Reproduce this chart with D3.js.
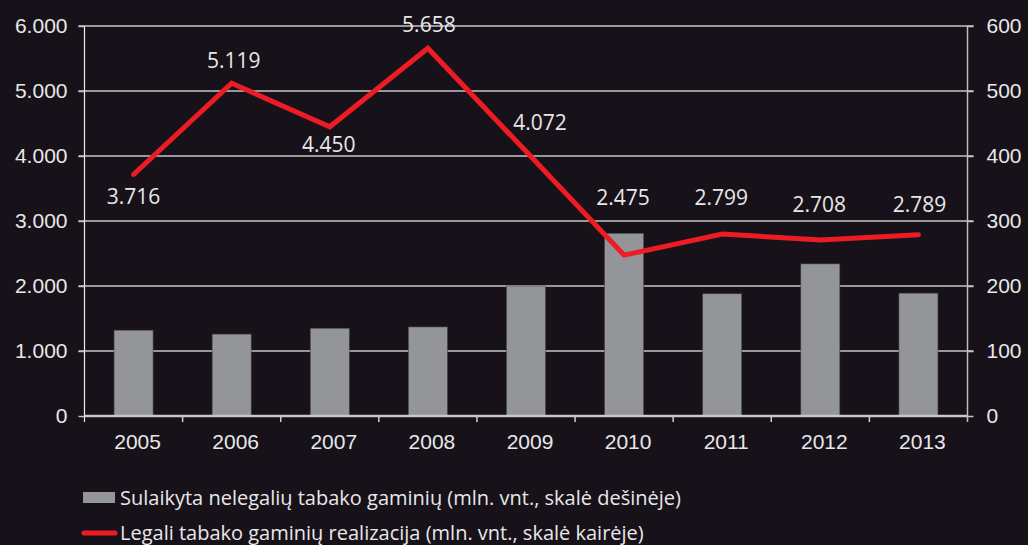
<!DOCTYPE html>
<html lang="lt">
<head>
  <meta charset="UTF-8">
  <title>Tabako gaminiai</title>
  <script src="https://d3js.org/d3.v7.min.js"></script>
  <style>
    body {
      margin: 0;
      background-color: #17111a;
    }
    svg {
      display: block;
      font-family: "Open Sans", sans-serif;
    }
  </style>
</head>
<body>

<script>
  // data
  const years = ["2005", "2006", "2007", "2008", "2009", "2010", "2011", "2012", "2013"];
  const seized = [132, 126, 135, 137, 200, 281, 188, 234, 189];          // right scale
  const legal = [3716, 5119, 4450, 5658, 4072, 2475, 2799, 2708, 2789];  // left scale
  const leftTicks = [0, 1000, 2000, 3000, 4000, 5000, 6000];
  const rightTicks = [0, 100, 200, 300, 400, 500, 600];

  // label placement relative to the line point (layout only)
  const labelShift = [[0, 30], [2, -15], [-1, 25], [1, -16], [14, -21], [-1, -50], [-1, -29], [-1, -28], [1, -23]];

  const W = 1028, H = 545;
  const plotL = 84.5, plotR = 967.5, plotT = 26, plotB = 416;

  const svg = d3.select("body").append("svg")
    .attr("width", W)
    .attr("height", H);

  svg.append("rect")
    .attr("width", W)
    .attr("height", H)
    .attr("fill", "#17111a");

  const x = d3.scaleBand().domain(years).range([plotL, plotR]).paddingInner(0).paddingOuter(0);
  const yL = d3.scaleLinear().domain([0, 6000]).range([plotB, plotT]);
  const yR = d3.scaleLinear().domain([0, 600]).range([plotB, plotT]);

  const fmt = d => d3.format(",")(d).replace(/,/g, ".");

  // gridlines
  svg.append("g")
    .selectAll("line")
    .data(leftTicks.slice(1))
    .join("line")
    .attr("x1", plotL - 6)
    .attr("x2", plotR + 6)
    .attr("y1", d => yL(d))
    .attr("y2", d => yL(d))
    .attr("stroke", "#c4c4c4")
    .attr("stroke-width", 1.5);

  // bars
  const barW = 39;
  svg.append("g")
    .selectAll("rect")
    .data(seized)
    .join("rect")
    .attr("x", (d, i) => x(years[i]) + x.bandwidth() / 2 - barW / 2)
    .attr("y", d => yR(d))
    .attr("width", barW)
    .attr("height", d => yR(0) - yR(d))
    .attr("fill", "#939598")
    .attr("stroke", "#4a474c")
    .attr("stroke-width", 0.6);

  // left axis
  const axL = svg.append("g")
    .attr("transform", `translate(${plotL},0)`)
    .call(d3.axisLeft(yL).tickValues(leftTicks).tickFormat(fmt).tickSize(6).tickPadding(11));
  axL.select(".domain").attr("d", `M0,${plotT}V${plotB + 6}`).attr("stroke", "#f0f0f0").attr("stroke-width", 1.2);
  axL.selectAll(".tick line").attr("stroke", "#c4c4c4").attr("stroke-width", 1.5);
  axL.selectAll("text")
    .attr("fill", "#e8e8e8")
    .attr("font-size", 21)
    .attr("dy", 6.5);

  // right axis
  const axR = svg.append("g")
    .attr("transform", `translate(${plotR},0)`)
    .call(d3.axisRight(yR).tickValues(rightTicks).tickSize(6).tickPadding(13));
  axR.select(".domain").attr("d", `M0,${plotT}V${plotB + 6}`).attr("stroke", "#bdbdbd").attr("stroke-width", 1.5);
  axR.selectAll(".tick line").attr("stroke", "#c4c4c4").attr("stroke-width", 1.5);
  axR.selectAll("text")
    .attr("fill", "#e8e8e8")
    .attr("font-size", 21)
    .attr("dy", 6.5);

  // bottom axis
  const axB = svg.append("g")
    .attr("transform", `translate(0,${plotB})`)
    .call(d3.axisBottom(x).tickSize(0).tickPadding(0));
  axB.select(".domain").remove();
  axB.selectAll("text")
    .attr("fill", "#e8e8e8")
    .attr("font-size", 21)
    .attr("dx", 4)
    .attr("y", 33)
    .attr("dy", 0);

  // category separators
  svg.append("g")
    .selectAll("line")
    .data(years.slice(1))
    .join("line")
    .attr("x1", d => x(d))
    .attr("x2", d => x(d))
    .attr("y1", plotB)
    .attr("y2", plotB + 6)
    .attr("stroke", "#d0d0d0")
    .attr("stroke-width", 1.5);

  svg.append("line")
    .attr("x1", plotL)
    .attr("x2", plotR)
    .attr("y1", plotB)
    .attr("y2", plotB)
    .attr("stroke", "#c8c8c8")
    .attr("stroke-width", 2.5);

  // line
  const line = d3.line()
    .x((d, i) => x(years[i]) + x.bandwidth() / 2)
    .y(d => yL(d));

  svg.append("path")
    .datum(legal)
    .attr("d", line)
    .attr("fill", "none")
    .attr("stroke", "#ed1c24")
    .attr("stroke-width", 5)
    .attr("stroke-linejoin", "miter")
    .attr("stroke-linecap", "round");

  // data labels
  svg.append("g")
    .selectAll("text")
    .data(legal)
    .join("text")
    .attr("x", (d, i) => x(years[i]) + x.bandwidth() / 2 + labelShift[i][0])
    .attr("y", (d, i) => yL(d) + labelShift[i][1])
    .attr("text-anchor", "middle")
    .attr("fill", "#e8e8e8")
    .attr("font-size", 21)
    .text(fmt);

  // legend
  const legend = svg.append("g");
  legend.append("rect")
    .attr("x", 83)
    .attr("y", 492)
    .attr("width", 32)
    .attr("height", 11)
    .attr("fill", "#939598");
  legend.append("text")
    .attr("x", 120)
    .attr("y", 505)
    .attr("fill", "#e8e8e8")
    .attr("font-size", 20)
    .text("Sulaikyta nelegalių tabako gaminių (mln. vnt., skalė dešinėje)");

  legend.append("line")
    .attr("x1", 84)
    .attr("x2", 115)
    .attr("y1", 533)
    .attr("y2", 533)
    .attr("stroke", "#ed1c24")
    .attr("stroke-width", 5)
    .attr("stroke-linecap", "round");
  legend.append("text")
    .attr("x", 120)
    .attr("y", 539.5)
    .attr("fill", "#e8e8e8")
    .attr("font-size", 20)
    .text("Legali tabako gaminių realizacija (mln. vnt., skalė kairėje)");
</script>

</body>
</html>
